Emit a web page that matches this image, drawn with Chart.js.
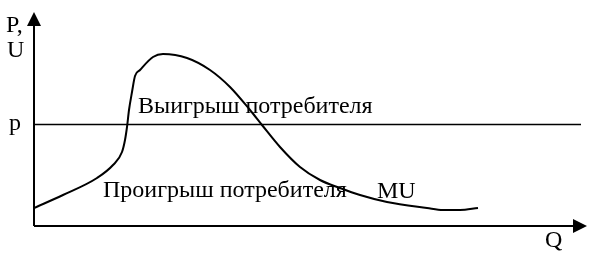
<!DOCTYPE html>
<html>
<head>
<meta charset="utf-8">
<script src="https://cdn.jsdelivr.net/npm/chart.js@4.4.1/dist/chart.umd.min.js"></script>
<style>
html,body{margin:0;padding:0;background:#fff;}
#wrap{width:603px;height:258px;}
</style>
</head>
<body>
<div id="wrap"><canvas id="c" width="603" height="258"></canvas></div>
<script>
// MU curve (quantity Q, utility U), arbitrary units
const curveQ = [0, 29, 63, 79, 88, 91, 93, 95, 98, 101, 106, 119, 129, 153, 176, 196, 216, 228, 246, 266, 286, 306, 326, 353, 393, 409, 426, 444];
const curveU = [18, 31, 48, 61, 74, 86, 99, 116, 134, 150, 156, 169, 172, 168, 156, 139, 116, 101, 79, 59, 46, 38, 31, 24, 18, 16, 16, 18];
// price level p
const priceQ = [0, 547];
const priceP = [101.5, 101.5];
const axisMaxQ = 556;
const axisMaxU = 214;
const labels = {
  yAxis1: 'P,', yAxis2: 'U', price: 'p', xAxis: 'Q',
  gain: 'Выигрыш потребителя', loss: 'Проигрыш потребителя', curve: 'MU'
};

const curveData = curveQ.map((q, i) => ({x: q, y: curveU[i]}));
const priceData = priceQ.map((q, i) => ({x: q, y: priceP[i]}));

const drawPlugin = {
  id: 'econ',
  afterDatasetsDraw(chart) {
    const ctx = chart.ctx;
    const xs = chart.scales.x, ys = chart.scales.y;
    const x0 = xs.getPixelForValue(0), y0 = ys.getPixelForValue(0);
    const xTop = ys.getPixelForValue(axisMaxU);
    const xEnd = xs.getPixelForValue(axisMaxQ);
    ctx.save();
    ctx.strokeStyle = '#000';
    ctx.fillStyle = '#000';
    ctx.lineWidth = 2;
    ctx.beginPath();
    ctx.moveTo(x0, y0);
    ctx.lineTo(x0, xTop + 12);
    ctx.moveTo(x0, y0);
    ctx.lineTo(xEnd - 14, y0);
    ctx.stroke();
    // arrows
    ctx.beginPath();
    ctx.moveTo(x0, xTop);
    ctx.lineTo(x0 - 7, xTop + 14);
    ctx.lineTo(x0 + 7, xTop + 14);
    ctx.closePath();
    ctx.fill();
    ctx.beginPath();
    ctx.moveTo(xEnd - 3, y0);
    ctx.lineTo(xEnd - 17, y0 - 7);
    ctx.lineTo(xEnd - 17, y0 + 7);
    ctx.closePath();
    ctx.fill();
    // texts
    ctx.font = '24px "Liberation Serif", "Times New Roman", serif';
    ctx.textBaseline = 'alphabetic';
    ctx.textAlign = 'left';
    ctx.fillText(labels.yAxis1, 6, 32);
    ctx.fillText(labels.yAxis2, 7, 57);
    ctx.fillText(labels.price, 9, 130);
    ctx.fillText(labels.gain, 138, 113);
    ctx.fillText(labels.loss, 103, 197);
    ctx.fillText(labels.curve, 377, 198);
    ctx.fillText(labels.xAxis, 545, 247);
    ctx.restore();
  }
};

new Chart(document.getElementById('c'), {
  type: 'scatter',
  data: {
    datasets: [
      {data: curveData, showLine: true, borderColor: '#000', borderWidth: 2, pointRadius: 0, cubicInterpolationMode: 'monotone', fill: false},
      {data: priceData, showLine: true, borderColor: '#000', borderWidth: 1.6, pointRadius: 0, tension: 0, fill: false}
    ]
  },
  options: {
    responsive: false,
    animation: false,
    events: [],
    layout: {padding: {left: 34, right: 13, top: 12, bottom: 32}},
    plugins: {legend: {display: false}, tooltip: {enabled: false}},
    scales: {
      x: {type: 'linear', min: 0, max: axisMaxQ, display: false},
      y: {type: 'linear', min: 0, max: axisMaxU, display: false}
    }
  },
  plugins: [drawPlugin]
});
</script>
</body>
</html>
